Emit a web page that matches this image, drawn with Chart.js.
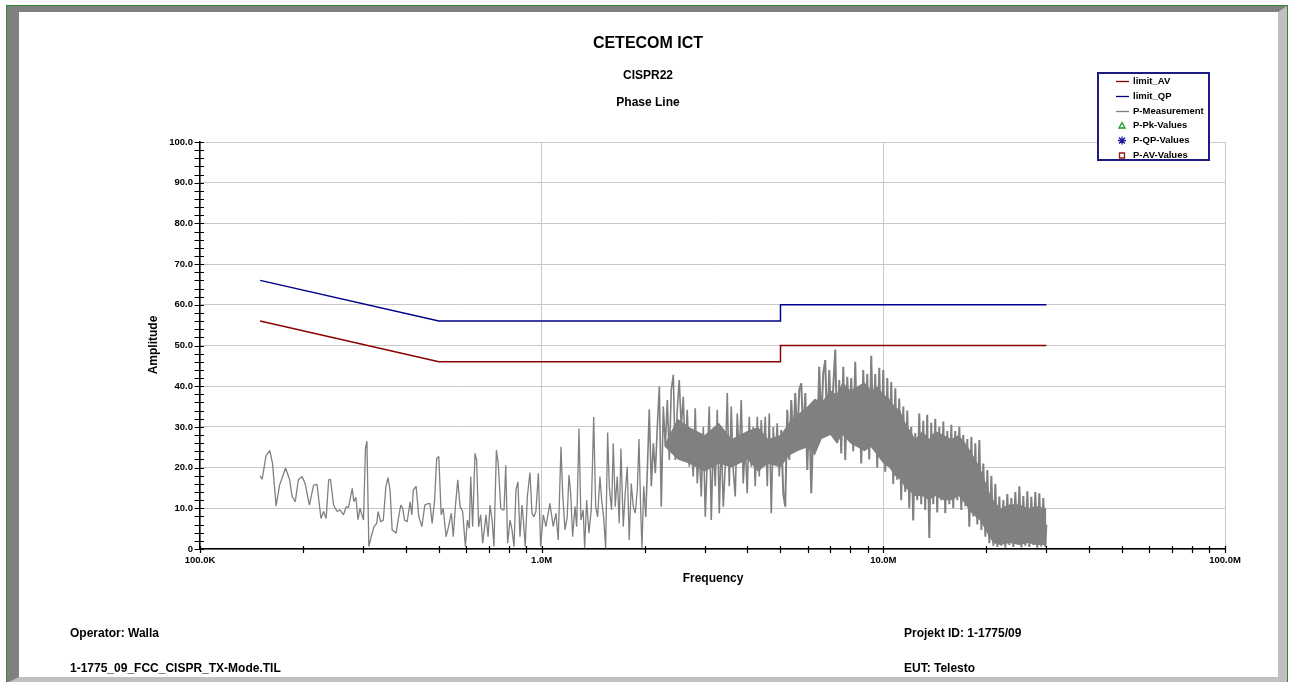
<!DOCTYPE html>
<html>
<head>
<meta charset="utf-8">
<title>CETECOM ICT - CISPR22 Phase Line</title>
<script src="https://cdn.jsdelivr.net/npm/chart.js@4.4.1/dist/chart.umd.min.js"></script>
<style>
  html, body { margin: 0; padding: 0; background: #fff; }
  body {
    width: 1296px; height: 682px; position: relative; overflow: hidden;
    font-family: "Liberation Sans", Arial, sans-serif; font-weight: bold; color: #000;
  }
  #frame {
    position: absolute; left: 6px; top: 5px; width: 1282px; height: 679px;
    box-sizing: border-box; border: 1px solid #2e8b2e;
  }
  #bevel {
    position: absolute; left: 0; top: 0; right: 0; bottom: 0;
    border-top: 6px solid #808080; border-left: 12px solid #808080;
    border-right: 9px solid #c0c0c0; border-bottom: 6px solid #c0c0c0;
  }
  #chart { position: absolute; left: 0; top: 0; }
  .txt { position: absolute; white-space: nowrap; line-height: 1; }
  .center { left: 0; width: 1296px; text-align: center; }
</style>
</head>
<body>
<div id="frame"><div id="bevel"></div></div>
<canvas id="chart" width="1296" height="682"></canvas>

<div class="txt center" style="top:35px;font-size:16px">CETECOM ICT</div>
<div class="txt center" style="top:69px;font-size:12px">CISPR22</div>
<div class="txt center" style="top:96px;font-size:12px">Phase Line</div>

<div class="txt" style="left:663px;width:100px;text-align:center;top:572px;font-size:12px">Frequency</div>
<div class="txt" style="left:103px;width:100px;text-align:center;top:339px;font-size:12px;transform:rotate(-90deg)">Amplitude</div>

<div class="txt" style="left:70px;top:627px;font-size:12px">Operator: Walla</div>
<div class="txt" style="left:70px;top:662px;font-size:12px">1-1775_09_FCC_CISPR_TX-Mode.TIL</div>
<div class="txt" style="left:904px;top:627px;font-size:12px">Projekt ID: 1-1775/09</div>
<div class="txt" style="left:904px;top:662px;font-size:12px">EUT: Telesto</div>

<script>
// ── Axis ticks ───────────────────────────────────────────────────────────────
const xTickValues = [0.1, 1, 10, 100];                 // MHz
const xTickLabels = ['100.0K', '1.0M', '10.0M', '100.0M'];
const yTickValues = [0, 10, 20, 30, 40, 50, 60, 70, 80, 90, 100];
const yTickLabels = ['0', '10.0', '20.0', '30.0', '40.0', '50.0', '60.0', '70.0', '80.0', '90.0', '100.0'];

// ── CISPR22 limits (MHz / dBuV) ──────────────────────────────────────────────
const limitFreq = [0.15, 0.5, 5, 5, 30];
const limitAV   = [56, 46, 46, 50, 50];
const limitQP   = [66, 56, 56, 60, 60];

const measFreq = [
  // 150 kHz – 1 MHz
  0.150, 0.152, 0.156, 0.160, 0.163, 0.167, 0.171, 0.178, 0.183, 0.186,
  0.190, 0.194, 0.199, 0.203, 0.209, 0.215, 0.220, 0.226, 0.230, 0.234,
  0.238, 0.241, 0.246, 0.252, 0.257, 0.263, 0.268, 0.272, 0.279, 0.282,
  0.286, 0.290, 0.294, 0.301, 0.305, 0.308, 0.312, 0.317, 0.323, 0.329,
  0.332, 0.338, 0.344, 0.350, 0.355, 0.360, 0.365, 0.370, 0.375, 0.380,
  0.387, 0.392, 0.397, 0.404, 0.412, 0.417, 0.421, 0.429, 0.437, 0.446,
  0.455, 0.463, 0.471, 0.478, 0.486, 0.493, 0.500, 0.508, 0.515, 0.525,
  0.534, 0.544, 0.551, 0.559, 0.568, 0.577, 0.587, 0.598, 0.606, 0.614,
  0.620, 0.628, 0.638, 0.645, 0.654, 0.663, 0.672, 0.681, 0.687, 0.697,
  0.706, 0.716, 0.725, 0.737, 0.746, 0.759, 0.769, 0.776, 0.785, 0.795,
  0.808, 0.819, 0.830, 0.841, 0.852, 0.864, 0.876, 0.884, 0.895, 0.908,
  0.924, 0.937, 0.949, 0.962, 0.978, 0.993, 1.011, 1.029,
  // 1 MHz – 8 MHz
  1.057, 1.081, 1.101, 1.118, 1.139, 1.152, 1.170, 1.188, 1.202, 1.216,
  1.232, 1.252, 1.266, 1.286, 1.303, 1.323, 1.336, 1.354, 1.375, 1.397,
  1.420, 1.439, 1.458, 1.481, 1.498, 1.518, 1.539, 1.560, 1.577, 1.602,
  1.620, 1.642, 1.664, 1.687, 1.706, 1.733, 1.756, 1.780, 1.804, 1.829,
  1.854, 1.879, 1.905, 1.927, 1.949, 1.966, 1.989, 2.016, 2.043, 2.065,
  2.094, 2.122, 2.151, 2.180, 2.210, 2.239, 2.270, 2.301, 2.332, 2.364,
  2.395, 2.428, 2.460, 2.494, 2.527, 2.562, 2.596, 2.632, 2.667, 2.704,
  2.740, 2.778, 2.815, 2.854, 2.893, 2.932, 2.972, 3.012, 3.053, 3.094,
  3.136, 3.178, 3.222, 3.265, 3.310, 3.354, 3.400, 3.446, 3.493, 3.540,
  3.588, 3.637, 3.686, 3.736, 3.787, 3.838, 3.890, 3.943, 3.996, 4.051,
  4.105, 4.161, 4.218, 4.276, 4.334, 4.392, 4.452, 4.512, 4.574, 4.636,
  4.699, 4.762, 4.827, 4.892, 4.959, 5.025, 5.094, 5.163, 5.234, 5.304,
  5.377, 5.450, 5.524, 5.598, 5.675, 5.752, 5.831, 5.910, 5.990, 6.071,
  6.152, 6.236, 6.320, 6.406, 6.492, 6.581, 6.669, 6.761, 6.852, 6.946,
  7.039, 7.136, 7.233, 7.331, 7.430, 7.531, 7.634, 7.736, 7.842, 7.947,
  // 8 MHz – 30 MHz
  8.055, 8.164, 8.275, 8.388, 8.502, 8.617, 8.734, 8.853, 8.973, 9.095,
  9.218, 9.343, 9.470, 9.599, 9.729, 9.861, 9.995, 10.13, 10.27, 10.41,
  10.55, 10.69, 10.84, 10.98, 11.13, 11.28, 11.44, 11.59, 11.75, 11.91,
  12.07, 12.23, 12.40, 12.57, 12.74, 12.91, 13.09, 13.26, 13.44, 13.63,
  13.81, 14.00, 14.19, 14.38, 14.58, 14.78, 14.98, 15.18, 15.39, 15.60,
  15.81, 16.02, 16.24, 16.46, 16.69, 16.91, 17.14, 17.38, 17.61, 17.85,
  18.10, 18.34, 18.59, 18.84, 19.10, 19.36, 19.62, 19.89, 20.16, 20.43,
  20.71, 20.99, 21.27, 21.56, 21.85, 22.15, 22.45, 22.76, 23.06, 23.38,
  23.70, 24.02, 24.34, 24.67, 25.01, 25.35, 25.69, 26.04, 26.39, 26.75,
  27.11, 27.48, 27.85, 28.23, 28.61, 29.00, 29.39, 29.79, 30.00,
];
const measLevel = [
  // 150 kHz – 1 MHz
  18.0, 17.1, 22.9, 24.2, 21.1, 10.6, 15.7, 19.9, 17.0, 12.9,
  11.6, 17.0, 17.8, 16.1, 10.8, 15.7, 15.9, 7.5, 9.2, 7.5,
  17.0, 17.1, 10.8, 9.2, 9.6, 8.4, 10.4, 10.2, 14.9, 11.6,
  12.7, 7.2, 10.0, 7.1, 24.7, 26.5, 0.6, 3.0, 5.5, 6.3,
  9.2, 6.7, 7.1, 15.4, 17.5, 14.5, 4.7, 4.3, 3.9, 7.1,
  10.8, 10.0, 7.1, 6.7, 11.6, 8.4, 14.5, 15.4, 7.9, 5.5,
  10.8, 11.1, 11.2, 6.3, 12.0, 22.3, 22.7, 8.4, 10.0, 3.0,
  5.5, 8.8, 3.0, 10.4, 17.0, 10.4, 9.2, 0.6, 7.1, 5.1,
  17.8, 5.5, 23.5, 21.9, 5.5, 8.4, 1.4, 5.5, 8.4, 3.0,
  10.8, 7.1, 0.6, 24.3, 21.1, 10.0, 9.6, 9.6, 20.6, 1.4,
  7.1, 4.7, 0.6, 14.5, 16.5, 3.0, 10.8, 7.1, 0.6, 12.9,
  18.8, 8.8, 7.9, 9.2, 18.6, 0.6, 8.4, 5.5,
  // 1 MHz – 8 MHz
  11.2, 5.5, 8.8, 2.2, 25.1, 13.7, 4.7, 7.9, 18.2, 13.7,
  3.0, 10.4, 5.5, 29.6, 7.1, 9.6, 0.2, 12.0, 3.9, 9.6,
  32.4, 10.4, 7.9, 17.8, 12.0, 7.9, 0.2, 28.6, 15.4, 9.6,
  26.0, 10.4, 17.8, 6.3, 24.7, 5.5, 13.7, 20.2, 2.2, 16.1,
  10.4, 8.8, 14.5, 27.0, 9.6, 0.2, 15.4, 7.9, 21.9, 34.3,
  15.4, 26.0, 18.6, 30.0, 39.9, 10.4, 35.0, 25.1, 36.6, 21.9,
  39.1, 42.8, 21.9, 34.2, 41.5, 30.0, 37.4, 23.5, 34.2, 20.2,
  26.0, 17.8, 34.6, 16.1, 24.3, 12.9, 30.0, 7.9, 21.9, 35.0,
  7.1, 26.0, 15.4, 34.2, 8.8, 27.6, 10.4, 20.2, 38.3, 15.4,
  35.0, 19.4, 12.9, 33.3, 21.9, 36.6, 16.1, 26.0, 13.7, 32.5,
  20.2, 30.0, 15.4, 32.5, 17.8, 31.7, 21.9, 32.5, 15.4, 33.3,
  8.8, 30.0, 21.9, 30.9, 17.8, 29.2, 13.7, 10.4, 34.2, 21.9,
  36.6, 26.0, 38.3, 26.8, 39.1, 40.7, 27.6, 38.3, 19.4, 34.2,
  13.7, 30.0, 36.6, 26.0, 44.8, 30.0, 43.2, 46.4, 28.4, 44.0,
  30.0, 39.9, 49.0, 26.0, 41.5, 23.5, 44.8, 21.9, 42.3, 30.0,
  // 8 MHz – 30 MHz
  42, 24, 46, 26, 40, 21, 44, 25, 43, 22,
  47.5, 27, 43, 20, 44.5, 23, 44, 19, 42, 21,
  41, 16, 39.5, 17, 37, 12, 35, 14, 34, 10,
  30, 7, 28.5, 12, 33.3, 11, 31.5, 9.6, 33, 2.7,
  31, 11, 32, 9, 30, 12, 31.3, 8.8, 29, 11,
  30.5, 10, 29, 12, 30, 9.6, 28, 10.5, 27, 5.5,
  27.5, 8, 26, 6, 26.8, 4.7, 21, 3, 19.4, 1.4,
  18, 0.8, 16, 0.5, 12.9, 0.8, 12, 0.3, 13.5, 1,
  12.5, 0.5, 14, 1.2, 15.4, 0.4, 13, 0.8, 14.2, 0.5,
  12.8, 1, 14, 0.3, 13.7, 0.6, 12.5, 0.5, 6,
];

// solid core of the dense sweep (where the trace covers every pixel column)
const coreFreq = [2.3, 2.5, 2.7, 3.0, 3.3, 3.6, 4.0, 4.3, 4.6, 5.0,
                  5.3, 5.6, 6.0, 6.3, 6.6, 7.0, 7.3, 7.6, 8.0, 8.4,
                  8.8, 9.2, 9.6, 10, 10.4, 10.8, 11.2, 11.6, 12.0, 12.4,
                  13, 13.6, 14.2, 15, 15.8, 16.6, 17.4, 18, 18.6, 19.2,
                  19.8, 20.4, 21, 22, 23.5, 25, 26.5, 28, 30];
const coreLow  = [25, 22, 21, 19, 21, 20, 22, 19, 21, 20,
                  23, 24, 25, 23, 27, 28, 26, 28, 26, 25,
                  24, 25, 23, 21, 20, 18, 17, 15, 14, 13,
                  13, 12, 13, 12, 12, 13, 11, 9, 8, 7,
                  5, 3, 1.5, 1, 1.5, 1, 1.5, 1, 1];
const coreHigh = [26, 32, 30, 28, 31, 27, 29, 30, 27, 28,
                  31, 33, 35, 37, 36, 39, 38, 41, 39, 40,
                  41, 39, 40, 38, 37, 35, 34, 31, 29, 27,
                  29, 27, 29, 28, 27, 28, 26, 24, 22, 20,
                  17, 14, 12, 10, 11, 11, 10, 10.5, 10];

// ── Helpers ──────────────────────────────────────────────────────────────────
const FONT   = '"Liberation Sans", Arial, sans-serif';
const GRID   = '#c8c8c8';
const C_AV   = '#8b0000';
const C_QP   = '#00008b';
const C_MEAS = '#808080';

const pts = (xs, ys) => xs.map((x, i) => ({ x, y: ys[i] }));

// the sweep gets very dense above ~2 MHz; slightly heavier strokes there
const measWidth = ctx => {
  const f = ctx.p0.parsed.x;
  return f >= 5 ? 2.0 : f >= 2 ? 1.6 : 1.3;
};

// ── Crossing tick marks (major + minor) ──────────────────────────────────────
const tickMarks = {
  id: 'tickMarks',
  afterDraw(chart) {
    const { ctx, scales: { x, y } } = chart;
    ctx.save();
    ctx.strokeStyle = '#000';
    ctx.lineWidth = 1.2;
    ctx.beginPath();
    y.ticks.forEach(t => {
      const py = Math.round(y.getPixelForValue(t.value)) + 0.5;
      ctx.moveTo(x.left - 5.5, py);
      ctx.lineTo(x.left + 4, py);
    });
    x.ticks.forEach(t => {
      const px = Math.round(x.getPixelForValue(t.value)) + 0.5;
      ctx.moveTo(px, y.bottom - 3);
      ctx.lineTo(px, y.bottom + 4);
    });
    ctx.stroke();
    ctx.restore();
  }
};

// ── Boxed legend, top right ──────────────────────────────────────────────────
const legendBox = {
  id: 'legendBox',
  afterDraw(chart) {
    const ctx = chart.ctx;
    const items = chart.data.datasets.filter(d => d.legendMark);
    ctx.save();
    ctx.fillStyle = '#fff';
    ctx.fillRect(1098, 73, 111, 87);
    ctx.lineWidth = 2;
    ctx.strokeStyle = '#1c1c80';
    ctx.strokeRect(1098, 73, 111, 87);
    ctx.font = 'bold 9.5px ' + FONT;
    ctx.textBaseline = 'middle';
    items.forEach((d, i) => {
      const cy = Math.round(81 + i * 14.8) + 0.5;
      const cx = 1122;
      ctx.strokeStyle = d.borderColor;
      ctx.lineWidth = 1.3;
      ctx.beginPath();
      if (d.legendMark === 'line') {
        ctx.moveTo(1116, cy); ctx.lineTo(1129, cy);
      } else if (d.legendMark === 'triangle') {
        ctx.moveTo(cx, cy - 3); ctx.lineTo(cx + 3, cy + 2.5); ctx.lineTo(cx - 3, cy + 2.5); ctx.closePath();
      } else if (d.legendMark === 'star') {
        ctx.moveTo(cx, cy - 4); ctx.lineTo(cx, cy + 4);
        ctx.moveTo(cx - 4, cy); ctx.lineTo(cx + 4, cy);
        ctx.moveTo(cx - 3, cy - 3); ctx.lineTo(cx + 3, cy + 3);
        ctx.moveTo(cx - 3, cy + 3); ctx.lineTo(cx + 3, cy - 3);
      } else if (d.legendMark === 'rect') {
        ctx.rect(cx - 2.5, cy - 2.5, 5, 5);
      }
      ctx.stroke();
      ctx.fillStyle = '#000';
      ctx.fillText(d.label, 1133, cy);
    });
    ctx.restore();
  }
};

// ── Chart ────────────────────────────────────────────────────────────────────
const tickFont = { family: FONT, size: 9.5, weight: 'bold' };

new Chart(document.getElementById('chart').getContext('2d'), {
  type: 'line',
  data: {
    datasets: [
      { label: 'limit_AV', legendMark: 'line', data: pts(limitFreq, limitAV),
        borderColor: C_AV, borderWidth: 1.5, pointRadius: 0, tension: 0 },
      { label: 'limit_QP', legendMark: 'line', data: pts(limitFreq, limitQP),
        borderColor: C_QP, borderWidth: 1.5, pointRadius: 0, tension: 0 },
      { label: 'P-Measurement', legendMark: 'line', data: pts(measFreq, measLevel),
        borderColor: C_MEAS, borderWidth: 1.3, borderJoinStyle: 'bevel', pointRadius: 0, tension: 0,
        segment: { borderWidth: measWidth } },
      { label: 'P-Pk-Values', legendMark: 'triangle', data: [], borderColor: '#1a9a1a', pointRadius: 0 },
      { label: 'P-QP-Values', legendMark: 'star', data: [], borderColor: '#1c1ca0', pointRadius: 0 },
      { label: 'P-AV-Values', legendMark: 'rect', data: [], borderColor: '#9a1a1a', pointRadius: 0 },
      { data: pts(coreFreq, coreHigh), borderWidth: 0, pointRadius: 0, tension: 0,
        fill: '+1', backgroundColor: C_MEAS },
      { data: pts(coreFreq, coreLow), borderWidth: 0, pointRadius: 0, tension: 0, fill: false },
    ]
  },
  options: {
    responsive: false,
    animation: false,
    layout: { padding: { left: 0, top: 142, right: 71, bottom: 93 } },
    plugins: { legend: { display: false }, tooltip: { enabled: false } },
    scales: {
      x: {
        type: 'logarithmic',
        min: xTickValues[0],
        max: xTickValues[xTickValues.length - 1],
        afterBuildTicks: scale => {
          const ticks = [];
          xTickValues.forEach((dec, i) => {
            ticks.push({ value: dec });
            if (i < xTickValues.length - 1) for (let m = 2; m <= 9; m++) ticks.push({ value: dec * m });
          });
          scale.ticks = ticks;
        },
        afterFit: scale => { scale.height = 40; },
        grid: {
          drawTicks: false,
          color: c => (c.tick && xTickValues.includes(c.tick.value)) ? GRID : 'rgba(0,0,0,0)',
        },
        border: { color: '#000', width: 1.5 },
        ticks: {
          autoSkip: false, maxRotation: 0, padding: 6, color: '#000', font: tickFont,
          callback: v => { const i = xTickValues.indexOf(v); return i >= 0 ? xTickLabels[i] : ''; },
        },
      },
      y: {
        type: 'linear',
        min: yTickValues[0],
        max: yTickValues[yTickValues.length - 1],
        afterBuildTicks: scale => {
          const ticks = [];
          for (let v = yTickValues[0]; v <= yTickValues[yTickValues.length - 1]; v += 2) ticks.push({ value: v });
          scale.ticks = ticks;
        },
        afterFit: scale => { scale.width = 200; },
        grid: {
          drawTicks: false,
          color: c => (c.tick && yTickValues.includes(c.tick.value)) ? GRID : 'rgba(0,0,0,0)',
        },
        border: { color: '#000', width: 1.5 },
        ticks: {
          autoSkip: false, padding: 7, color: '#000', font: tickFont,
          callback: v => { const i = yTickValues.indexOf(v); return i >= 0 ? yTickLabels[i] : ''; },
        },
      },
    },
  },
  plugins: [tickMarks, legendBox],
});
</script>
</body>
</html>
